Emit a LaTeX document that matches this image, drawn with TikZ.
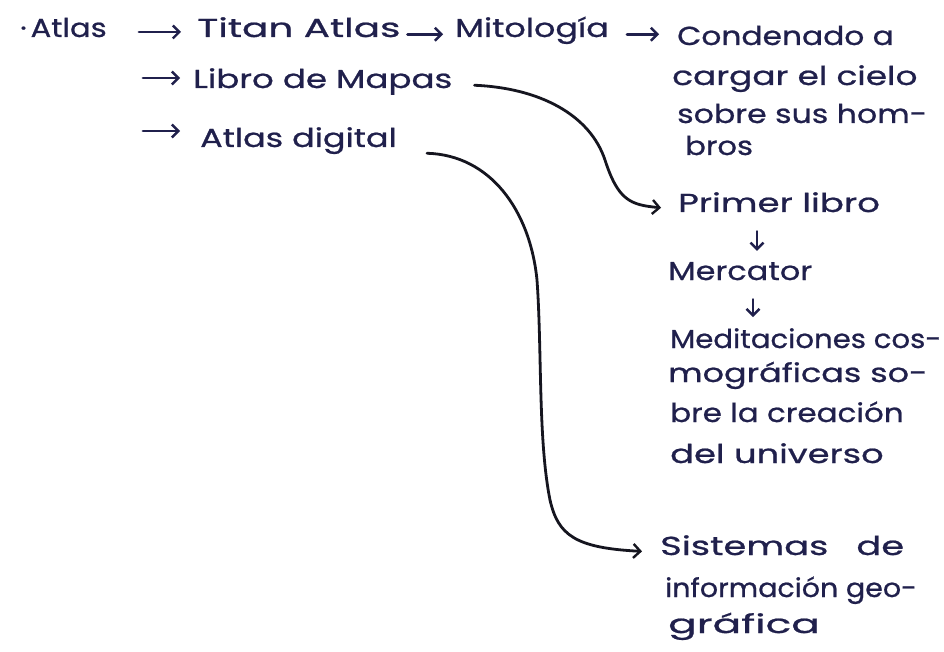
\documentclass[tikz,border=0pt]{standalone}
\usepackage{fontspec}
\usepackage{graphicx}
\setmainfont[FakeStretch=1.18,FakeBold=0.8]{Poppins}
\usetikzlibrary{arrows.meta,calc}
\definecolor{ink}{HTML}{20204C}
\definecolor{pen}{HTML}{15151F}
\newcommand{\sx}[2]{\scalebox{#1}[1]{#2}}
\tikzset{
  txt/.style={anchor=base west, inner sep=0pt, text=ink, font=\fontsize{26}{30}\selectfont},
  arr/.style={draw=ink, line width=2.8pt, line cap=round, -{Straight Barb[length=6.5pt,width=13pt,line width=2.4pt]}},
  curve/.style={draw=pen, line width=2.8pt, line cap=round, -{Straight Barb[length=7pt,width=14pt,line width=2.4pt]}}
}
\begin{document}
\begin{tikzpicture}[x=1pt,y=-1pt]
\fill[white] (0,0) rectangle (944,652);
\useasboundingbox (0,0) rectangle (944,652);
% first row
\node[txt] (atlas) at (20,37) {·\hspace{0.15em}Atlas};
\node[txt] (titan) at (197,37) {\sx{1.27}{Titan Atlas}};
\node[txt] (mito) at (455,37) {\sx{1.09}{Mitología}};
\node[txt] (cond1) at (677,45) {\sx{1.02}{Condenado a}};
\node[txt] (cond2) at (672,85) {\sx{1.12}{cargar el cielo}};
\node[txt] (cond3) at (677,123) {\sx{1.03}{sobre sus hom-}};
\node[txt] (cond4) at (685,155) {bros};
% other branches
\node[txt] (libro) at (193,88) {\sx{1.11}{Libro de Mapas}};
\node[txt] (digital) at (200,147) {\sx{1.09}{Atlas digital}};
\node[txt] (primer) at (678,212) {\sx{1.16}{Primer libro}};
\node[txt] (merc) at (668,280) {\sx{1.04}{Mercator}};
\node[txt] (med1) at (670,348) {\sx{0.95}{Meditaciones cos-}};
\node[txt] (med2) at (668,382) {\sx{1.09}{mográficas so-}};
\node[txt] (med3) at (670,422) {\sx{1.01}{bre la creación}};
\node[txt] (med4) at (670,463) {\sx{1.15}{del universo}};
\node[txt] (sis1) at (660,555) {\sx{1.2}{Sistemas\hspace{0.9em}de}};
\node[txt] (sis2) at (665,597) {\sx{0.93}{información geo-}};
\node[txt] (sis3) at (668,633) {\sx{1.38}{gráfica}};
% straight arrows
\coordinate (a1s) at (139,32);
\draw[arr, shorten >=16pt] (a1s) -- (a1s -| titan.west);
\draw[arr, shorten <=7pt, shorten >=12pt] (titan.mid east) -- (mito.mid west);
\draw[arr, shorten <=18pt, shorten >=18pt] (mito.mid east) -- (mito.mid east -| cond1.west);
\coordinate (b1s) at (143,78);
\draw[arr, shorten >=13pt] (b1s) -- (b1s -| libro.west);
\coordinate (b2s) at (143,131);
\draw[arr, shorten >=20pt] (b2s) -- (b2s -| digital.west);
% down arrows
\coordinate (d1) at (757,0);
\draw[arr, shorten <=19pt, shorten >=11pt] (primer.south -| d1) -- (merc.north -| d1);
\coordinate (d2) at (753,0);
\draw[arr, shorten <=19pt, shorten >=11pt] (merc.south -| d2) -- (med1.north -| d2);
% curves
\draw[curve, shorten >=17pt] ([xshift=22pt]libro.mid east) .. controls (540,88) and (590,115) .. (605,160)
  .. controls (618,200) and (630,205) .. (primer.mid west);
\draw[curve, shorten >=18pt] ([xshift=30pt,yshift=-9pt]digital.mid east) .. controls (490,155) and (530,210) .. (537,280)
  .. controls (542,350) and (538,440) .. (550,500)
  .. controls (558,535) and (575,548) .. (sis1.mid west);
\end{tikzpicture}
\end{document}
